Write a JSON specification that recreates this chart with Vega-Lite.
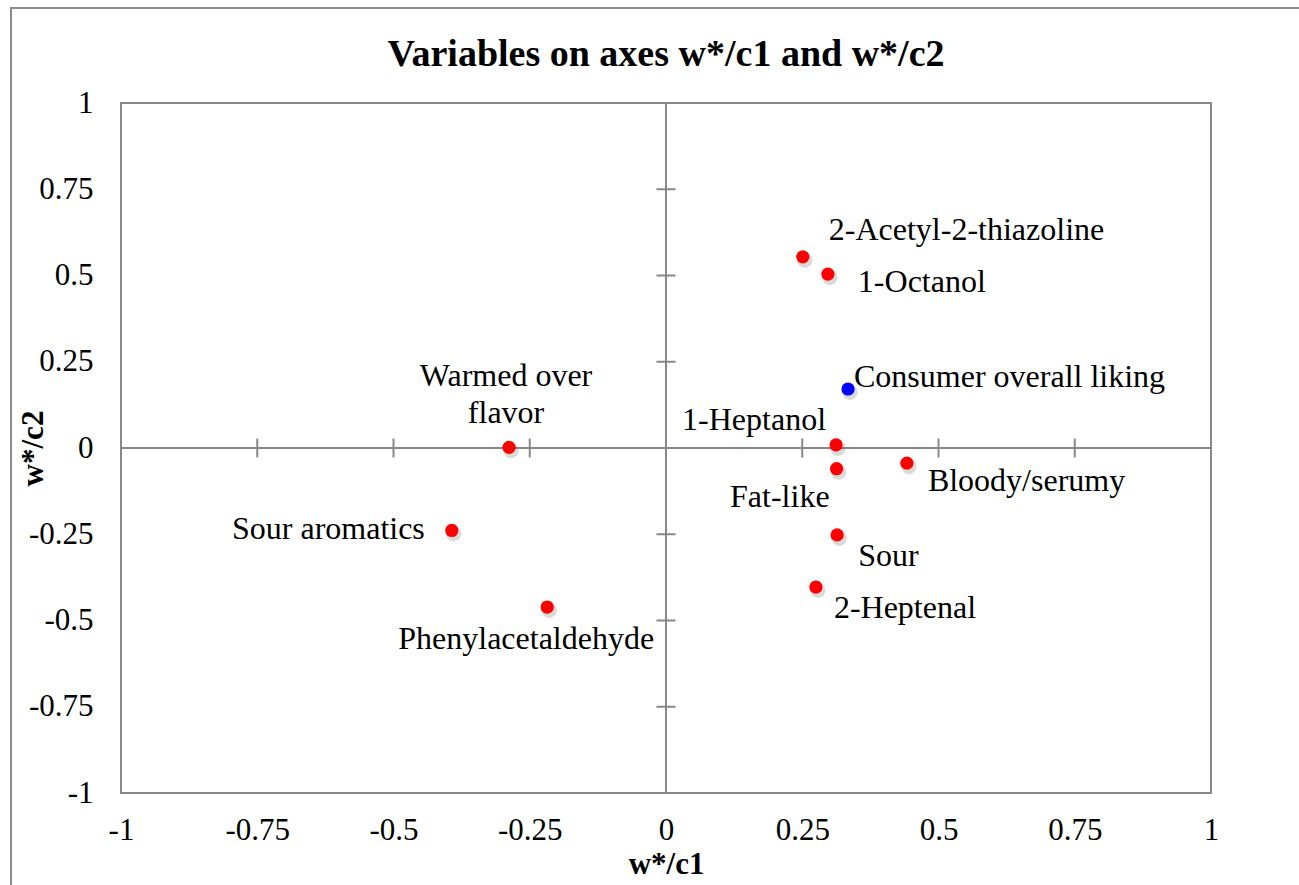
{
  "$schema": "https://vega.github.io/schema/vega-lite/v6.json",
  "width": 1090,
  "height": 690,
  "autosize": "none",
  "padding": {"left": 121, "top": 103, "right": 88, "bottom": 92},
  "background": "white",
  "config": {
    "font": "Liberation Serif",
    "view": {"stroke": "#888888", "strokeWidth": 2}
  },
  "title": {
    "text": "Variables on axes w*/c1 and w*/c2",
    "font": "Liberation Serif",
    "fontSize": 38,
    "fontWeight": "bold",
    "color": "black",
    "frame": "group",
    "anchor": "middle",
    "offset": -67
  },
  "datasets": {
    "variables": [
      {"name": "2-Acetyl-2-thiazoline", "label": "2-Acetyl-2-thiazoline", "role": "X", "c1": 0.251, "c2": 0.554},
      {"name": "1-Octanol", "label": "1-Octanol", "role": "X", "c1": 0.297, "c2": 0.504},
      {"name": "Consumer overall liking", "label": "Consumer overall liking", "role": "Y", "c1": 0.334, "c2": 0.171},
      {"name": "1-Heptanol", "label": "1-Heptanol", "role": "X", "c1": 0.312, "c2": 0.009},
      {"name": "Fat-like", "label": "Fat-like", "role": "X", "c1": 0.313, "c2": -0.060},
      {"name": "Bloody/serumy", "label": "Bloody/serumy", "role": "X", "c1": 0.442, "c2": -0.044},
      {"name": "Sour", "label": "Sour", "role": "X", "c1": 0.314, "c2": -0.252},
      {"name": "2-Heptenal", "label": "2-Heptenal", "role": "X", "c1": 0.275, "c2": -0.403},
      {"name": "Warmed over flavor", "label": "Warmed over\nflavor", "role": "X", "c1": -0.288, "c2": 0.002},
      {"name": "Sour aromatics", "label": "Sour aromatics", "role": "X", "c1": -0.393, "c2": -0.239},
      {"name": "Phenylacetaldehyde", "label": "Phenylacetaldehyde", "role": "X", "c1": -0.218, "c2": -0.461}
    ],
    "ticks": [
      {"v": -0.75}, {"v": -0.5}, {"v": -0.25}, {"v": 0.25}, {"v": 0.5}, {"v": 0.75}
    ]
  },
  "layer": [
    {
      "description": "variables (carries the shared axes)",
      "data": {"name": "variables"},
      "mark": {"type": "point", "shape": "circle", "filled": true, "size": 175, "opacity": 0, "strokeWidth": 0},
      "encoding": {
        "x": {
          "field": "c1",
          "type": "quantitative",
          "scale": {"domain": [-1, 1], "nice": false, "zero": false},
          "axis": {
            "title": "w*/c1",
            "values": [-1, -0.75, -0.5, -0.25, 0, 0.25, 0.5, 0.75, 1],
            "labelExpr": "datum.value + ''",
            "domain": false,
            "ticks": false,
            "grid": false,
            "labelFont": "Liberation Serif",
            "labelFontSize": 31,
            "labelColor": "black",
            "labelBaseline": "top",
            "labelPadding": 22,
            "labelFlush": false,
            "labelOverlap": false,
            "titleFont": "Liberation Serif",
            "titleFontSize": 31,
            "titleFontWeight": "bold",
            "titleColor": "black",
            "titlePadding": 4
          }
        },
        "y": {
          "field": "c2",
          "type": "quantitative",
          "scale": {"domain": [-1, 1], "nice": false, "zero": false},
          "axis": {
            "title": "w*/c2",
            "values": [-1, -0.75, -0.5, -0.25, 0, 0.25, 0.5, 0.75, 1],
            "labelExpr": "datum.value + ''",
            "domain": false,
            "ticks": false,
            "grid": false,
            "labelFont": "Liberation Serif",
            "labelFontSize": 31,
            "labelColor": "black",
            "labelAlign": "right",
            "labelBaseline": "middle",
            "labelPadding": 28,
            "labelFlush": false,
            "labelOverlap": false,
            "titleFont": "Liberation Serif",
            "titleFontSize": 31,
            "titleFontWeight": "bold",
            "titleColor": "black",
            "titlePadding": -21
          }
        }
      }
    },
    {
      "description": "chart area border",
      "data": {"values": [{}]},
      "mark": {"type": "rect", "fill": null, "stroke": "#8c8c8c", "strokeWidth": 2, "clip": false},
      "encoding": {
        "x": {"datum": -1.2018, "type": "quantitative"},
        "x2": {"datum": 1.5},
        "y": {"datum": 1.2754, "type": "quantitative"},
        "y2": {"datum": -1.5}
      }
    },
    {
      "description": "zero line, vertical",
      "data": {"values": [{}]},
      "mark": {"type": "rule", "color": "#888888", "strokeWidth": 2},
      "encoding": {
        "x": {"datum": 0, "type": "quantitative"}
      }
    },
    {
      "description": "zero line, horizontal",
      "data": {"values": [{}]},
      "mark": {"type": "rule", "color": "#888888", "strokeWidth": 2},
      "encoding": {
        "y": {"datum": 0, "type": "quantitative"}
      }
    },
    {
      "description": "cross ticks on the horizontal zero line",
      "data": {"name": "ticks"},
      "mark": {"type": "tick", "orient": "vertical", "size": 19, "thickness": 2, "color": "#888888", "opacity": 1},
      "encoding": {
        "x": {"field": "v", "type": "quantitative"},
        "y": {"datum": 0, "type": "quantitative"}
      }
    },
    {
      "description": "cross ticks on the vertical zero line",
      "data": {"name": "ticks"},
      "mark": {"type": "tick", "orient": "horizontal", "size": 19, "thickness": 2, "color": "#888888", "opacity": 1},
      "encoding": {
        "y": {"field": "v", "type": "quantitative"},
        "x": {"datum": 0, "type": "quantitative"}
      }
    },
    {
      "description": "soft drop shadow under each marker",
      "data": {"name": "variables"},
      "mark": {
        "type": "point",
        "shape": "M 1.45 0.5 A 1.15 1.15 0 1 1 -0.85 0.5 A 1.15 1.15 0 1 1 1.45 0.5 Z",
        "filled": true,
        "size": 175,
        "color": "#555555",
        "opacity": 0.22,
        "strokeWidth": 0
      },
      "encoding": {
        "x": {"field": "c1", "type": "quantitative"},
        "y": {"field": "c2", "type": "quantitative"}
      }
    },
    {
      "description": "markers",
      "data": {"name": "variables"},
      "mark": {"type": "point", "shape": "circle", "filled": true, "size": 175, "opacity": 1, "strokeWidth": 0},
      "encoding": {
        "x": {"field": "c1", "type": "quantitative"},
        "y": {"field": "c2", "type": "quantitative"},
        "color": {
          "field": "role",
          "type": "nominal",
          "scale": {"domain": ["X", "Y"], "range": ["#ff0000", "#0000ff"]},
          "legend": null
        }
      }
    },
    {
      "description": "data labels",
      "data": {"name": "variables"},
      "encoding": {
        "x": {"field": "c1", "type": "quantitative"},
        "y": {"field": "c2", "type": "quantitative"},
        "text": {"field": "label"}
      },
      "layer": [
        {
          "transform": [{"filter": "datum.name === '2-Acetyl-2-thiazoline'"}],
          "mark": {"type": "text", "align": "left", "baseline": "middle", "dx": 26, "dy": -27, "fontSize": 32, "color": "black"}
        },
        {
          "transform": [{"filter": "datum.name === '1-Octanol'"}],
          "mark": {"type": "text", "align": "left", "baseline": "middle", "dx": 30, "dy": 8, "fontSize": 32, "color": "black"}
        },
        {
          "transform": [{"filter": "datum.name === 'Consumer overall liking'"}],
          "mark": {"type": "text", "align": "left", "baseline": "middle", "dx": 6, "dy": -12, "fontSize": 32, "color": "black"}
        },
        {
          "transform": [{"filter": "datum.name === '1-Heptanol'"}],
          "mark": {"type": "text", "align": "right", "baseline": "middle", "dx": -10, "dy": -25, "fontSize": 32, "color": "black"}
        },
        {
          "transform": [{"filter": "datum.name === 'Fat-like'"}],
          "mark": {"type": "text", "align": "right", "baseline": "middle", "dx": -7, "dy": 28, "fontSize": 32, "color": "black"}
        },
        {
          "transform": [{"filter": "datum.name === 'Bloody/serumy'"}],
          "mark": {"type": "text", "align": "left", "baseline": "middle", "dx": 21, "dy": 18, "fontSize": 32, "color": "black"}
        },
        {
          "transform": [{"filter": "datum.name === 'Sour'"}],
          "mark": {"type": "text", "align": "left", "baseline": "middle", "dx": 21, "dy": 21, "fontSize": 32, "color": "black"}
        },
        {
          "transform": [{"filter": "datum.name === '2-Heptenal'"}],
          "mark": {"type": "text", "align": "left", "baseline": "middle", "dx": 18, "dy": 21, "fontSize": 32, "color": "black"}
        },
        {
          "transform": [{"filter": "datum.name === 'Warmed over flavor'"}],
          "mark": {"type": "text", "align": "center", "baseline": "middle", "dx": -3, "dy": -71, "lineBreak": "\n", "lineHeight": 37, "fontSize": 32, "color": "black"}
        },
        {
          "transform": [{"filter": "datum.name === 'Sour aromatics'"}],
          "mark": {"type": "text", "align": "right", "baseline": "middle", "dx": -27, "dy": -1, "fontSize": 32, "color": "black"}
        },
        {
          "transform": [{"filter": "datum.name === 'Phenylacetaldehyde'"}],
          "mark": {"type": "text", "align": "center", "baseline": "middle", "dx": -21, "dy": 32, "fontSize": 32, "color": "black"}
        }
      ]
    }
  ]
}
